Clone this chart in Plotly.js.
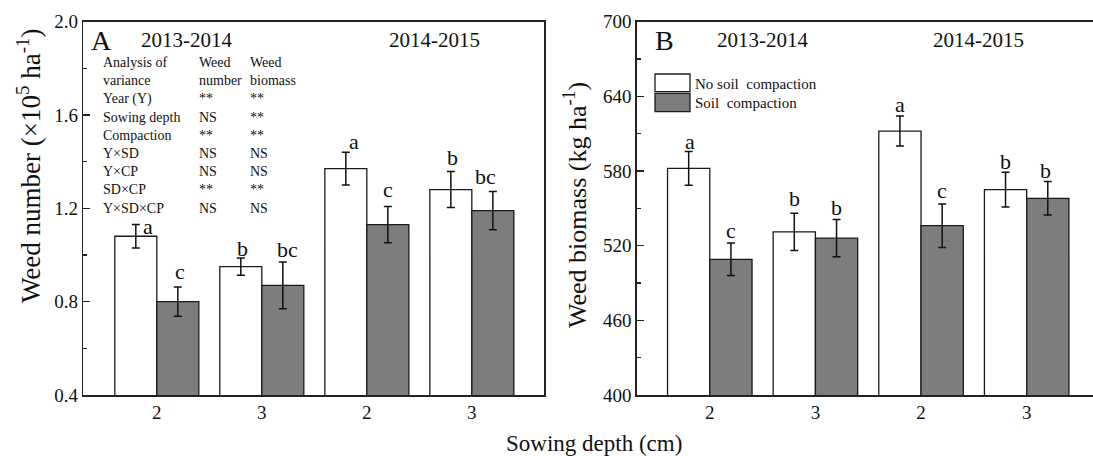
<!DOCTYPE html>
<html>
<head>
<meta charset="utf-8">
<script src="https://cdn.plot.ly/plotly-3.0.1.min.js"></script>
<style>html,body{margin:0;padding:0;background:#fff;}#chart{width:1093px;height:456px;}</style>
</head>
<body>
<div id="chart"></div>
<script>
// ---------------- DATA ----------------
const groups = ["2013-2014, 2 cm", "2013-2014, 3 cm", "2014-2015, 2 cm", "2014-2015, 3 cm"];
const depthTicks = ["2", "3", "2", "3"];
const seasonLabels = ["2013-2014", "2014-2015"];
const seriesNames = ["No soil\u00a0 compaction", "Soil\u00a0 compaction"];

// Panel A: weed number (x10^5 ha^-1)
const numberNoComp = [1.08, 0.95, 1.37, 1.28];
const numberNoCompErr = [0.05, 0.037, 0.07, 0.077];
const numberComp = [0.80, 0.87, 1.13, 1.19];
const numberCompErr = [0.063, 0.10, 0.078, 0.082];
const numberNoCompLetters = ["a", "b", "a", "b"];
const numberCompLetters = ["c", "bc", "c", "bc"];

// Panel B: weed biomass (kg ha^-1)
const biomassNoComp = [582, 531, 612, 565];
const biomassNoCompErr = [13.5, 15, 12, 14];
const biomassComp = [509, 526, 536, 558];
const biomassCompErr = [13, 15, 17.5, 13.5];
const biomassNoCompLetters = ["a", "b", "a", "b"];
const biomassCompLetters = ["c", "b", "c", "b"];

// ANOVA table
const anovaTerms = ["Year (Y)", "Sowing depth", "Compaction", "Y×SD", "Y×CP", "SD×CP", "Y×SD×CP"];
const anovaNumber = ["**", "NS", "**", "NS", "NS", "**", "NS"];
const anovaBiomass = ["**", "**", "**", "NS", "NS", "**", "NS"];

// ---------------- LAYOUT HELPERS ----------------
const W = 1093, H = 456;
const px = x => x / W;
const py = y => 1 - y / H;
const FONT = "Liberation Serif, Times New Roman, serif";
const INK = "#111";
const GREY = "#7d7d7d";

const yDom = [py(395), py(21.5)];

function bar(x, y, err, fill, name, xa, ya) {
  return {
    type: "bar", x: x, y: y, name: name, xaxis: xa, yaxis: ya,
    marker: {color: fill, line: {color: "#1a1a1a", width: 1.3}},
    error_y: {type: "data", array: err, visible: true, color: INK, thickness: 1.5, width: 4},
    showlegend: false, hoverinfo: "skip"
  };
}

const data = [
  bar(groups, numberNoComp, numberNoCompErr, "#ffffff", seriesNames[0], "x", "y"),
  bar(groups, numberComp, numberCompErr, GREY, seriesNames[1], "x", "y"),
  bar(groups, biomassNoComp, biomassNoCompErr, "#ffffff", seriesNames[0], "x2", "y2"),
  bar(groups, biomassComp, biomassCompErr, GREY, seriesNames[1], "x2", "y2")
];

const annotations = [];
// significance letters: [dx, dy] pixel nudges around the error-bar top
const nudgeA = [[[12, -2], [2, 9], [8, 11], [2, 14]], [[2, 15], [5, 12], [0, 17], [-7, 15]]];
const nudgeB = [[[1, 10], [0, 15], [0, 12], [0, 11]], [[0, 13], [0, 12], [0, 13], [-2, 11]]];
function letters(vals, errs, labs, side, nudge, xr, yr) {
  vals.forEach((v, i) => {
    annotations.push({
      xref: xr, yref: yr, x: groups[i], y: v + errs[i], text: labs[i], showarrow: false,
      xshift: side * 21 + nudge[i][0], yshift: nudge[i][1], yanchor: "middle", xanchor: "center",
      font: {family: FONT, size: 22, color: INK}
    });
  });
}
letters(numberNoComp, numberNoCompErr, numberNoCompLetters, -1, nudgeA[0], "x", "y");
letters(numberComp, numberCompErr, numberCompLetters, 1, nudgeA[1], "x", "y");
letters(biomassNoComp, biomassNoCompErr, biomassNoCompLetters, -1, nudgeB[0], "x2", "y2");
letters(biomassComp, biomassCompErr, biomassCompLetters, 1, nudgeB[1], "x2", "y2");

function txt(text, x, y, size, opts) {
  annotations.push(Object.assign({
    xref: "paper", yref: "paper", x: px(x), y: py(y), text: text, showarrow: false,
    xanchor: "center", yanchor: "middle", font: {family: FONT, size: size, color: INK}
  }, opts || {}));
}
// panel labels and seasons
txt("A", 101, 40, 28);
txt(seasonLabels[0], 186, 40, 21);
txt(seasonLabels[1], 434, 40, 21);
txt("B", 664, 40, 28);
txt(seasonLabels[0], 762, 40, 21);
txt(seasonLabels[1], 978, 40, 21);
// axis titles
txt("Weed number (×10<sup>5</sup> ha<sup>-1</sup>)", 29, 166, 27, {textangle: -90});
txt("Weed biomass (kg ha<sup>-1</sup>)", 575, 205, 26, {textangle: -90});
txt("Sowing depth (cm)", 594, 443, 23);
// ANOVA table
const col1 = ["Analysis of", "variance"].concat(anovaTerms).join("<br>");
const col2 = ["Weed", "number"].concat(anovaNumber).join("<br>");
const col3 = ["Weed", "biomass"].concat(anovaBiomass).join("<br>");
txt(col1, 100.5, 135.4, 14, {xanchor: "left", align: "left"});
txt(col2, 197, 135.4, 14, {xanchor: "left", align: "left"});
txt(col3, 248, 135.4, 14, {xanchor: "left", align: "left"});
// legend (panel B)
txt(seriesNames[0], 693, 84, 15, {xanchor: "left"});
txt(seriesNames[1], 693, 103, 15, {xanchor: "left"});

const shapes = [
  {type: "rect", xref: "paper", yref: "paper", x0: px(655), x1: px(690), y0: py(91.7), y1: py(74),
   fillcolor: "#ffffff", line: {color: "#1a1a1a", width: 1.3}},
  {type: "rect", xref: "paper", yref: "paper", x0: px(655), x1: px(690), y0: py(111.7), y1: py(93.3),
   fillcolor: GREY, line: {color: "#1a1a1a", width: 1.3}}
];

function xAxis(dom, range, yanchor) {
  return {
    domain: dom, anchor: yanchor, type: "category", range: range,
    tickvals: groups, ticktext: depthTicks, ticks: "",
    showline: true, mirror: true, linecolor: "#222", linewidth: 1.5,
    showgrid: false, zeroline: false, fixedrange: true,
    tickfont: {family: FONT, size: 19, color: INK}
  };
}
function yAxis(range, dtick, minor, xanchor, mirror) {
  return {
    domain: yDom, anchor: xanchor, range: range, tick0: range[0], dtick: dtick,
    ticks: "inside", ticklen: 7, tickwidth: 1.3, tickcolor: "#222",
    minor: {dtick: minor, tick0: range[0], ticks: "inside", ticklen: 4, tickwidth: 1.3, tickcolor: "#222", showgrid: false},
    showline: true, mirror: mirror, linecolor: "#222", linewidth: 1.5,
    showgrid: false, zeroline: false, fixedrange: true,
    tickfont: {family: FONT, size: 19, color: INK}
  };
}

const layout = {
  width: W, height: H,
  margin: {l: 0, r: 0, t: 0, b: 0, pad: 0},
  paper_bgcolor: "#ffffff", plot_bgcolor: "#ffffff",
  barmode: "group", bargap: 0.2, bargroupgap: 0,
  showlegend: false,
  font: {family: FONT, color: INK},
  xaxis: xAxis([px(83.3), px(544.3)], [-0.7, 3.69], "y"),
  yaxis: Object.assign(yAxis([0.4, 2.0], 0.4, 0.2, "x", true), {tickformat: ".1f"}),
  xaxis2: xAxis([px(636.7), 1], [-0.692, 3.628], "y2"),
  yaxis2: yAxis([400, 700], 60, 30, "x2", false),
  annotations: annotations,
  shapes: shapes
};

Plotly.newPlot("chart", data, layout, {staticPlot: true, displayModeBar: false});
</script>
</body>
</html>
